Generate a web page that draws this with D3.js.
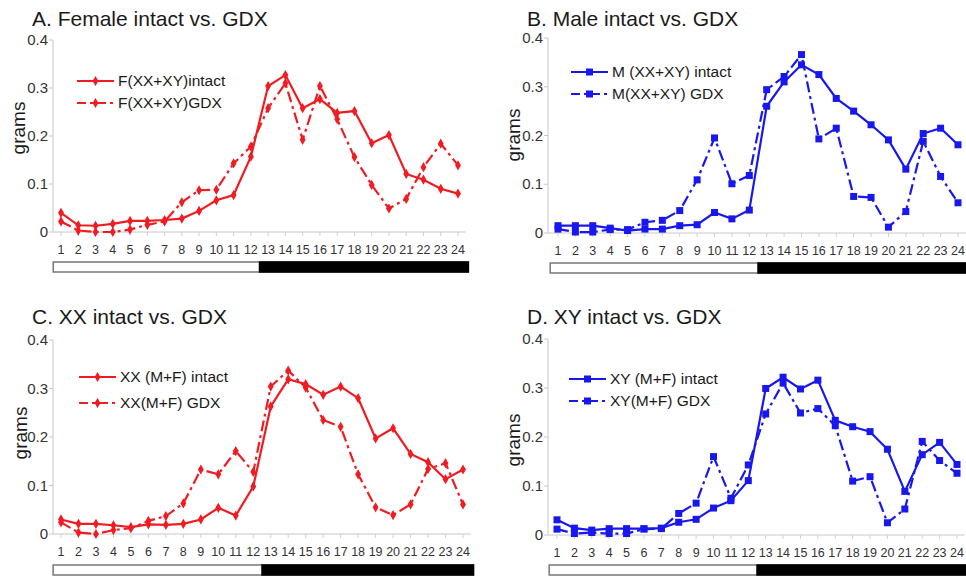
<!DOCTYPE html>
<html><head><meta charset="utf-8">
<script src="https://cdn.jsdelivr.net/npm/d3@7/dist/d3.min.js"></script>
<style>
body{margin:0;background:#fff;}
svg{display:block;font-family:"Liberation Sans",Arial,sans-serif;}
</style></head>
<body>
<svg id="chart" width="966" height="577"></svg>
<script>
const hours = [1,2,3,4,5,6,7,8,9,10,11,12,13,14,15,16,17,18,19,20,21,22,23,24];
const yTicks = [0,0.1,0.2,0.3,0.4];
const yTickLabels = ["0","0.1","0.2","0.3","0.4"];
const lightPeriod = [0.55, 12.5];
const darkPeriod = [12.5, 24.6];

const femaleIntact = [0.040,0.014,0.013,0.017,0.023,0.023,0.025,0.028,0.044,0.066,0.077,0.157,0.304,0.327,0.258,0.277,0.248,0.252,0.185,0.202,0.121,0.109,0.090,0.080];
const femaleGDX    = [0.022,0.003,0.000,0.000,0.005,0.015,0.022,0.062,0.087,0.088,0.143,0.178,0.258,0.310,0.192,0.304,0.235,0.156,0.098,0.049,0.069,0.135,0.184,0.139];
const maleIntact   = [0.015,0.015,0.015,0.010,0.005,0.008,0.008,0.015,0.017,0.042,0.029,0.047,0.260,0.310,0.345,0.325,0.276,0.250,0.222,0.191,0.131,0.204,0.215,0.181];
const maleGDX      = [0.008,0.002,0.002,0.007,0.007,0.022,0.026,0.046,0.109,0.195,0.101,0.118,0.294,0.321,0.366,0.193,0.215,0.075,0.073,0.012,0.044,0.188,0.116,0.062];
const xxIntact     = [0.030,0.021,0.021,0.018,0.014,0.020,0.019,0.021,0.030,0.054,0.038,0.098,0.263,0.319,0.309,0.287,0.304,0.280,0.197,0.218,0.165,0.148,0.113,0.133];
const xxGDX        = [0.024,0.003,0.000,0.008,0.012,0.027,0.037,0.063,0.133,0.123,0.171,0.128,0.304,0.337,0.302,0.235,0.221,0.123,0.055,0.039,0.061,0.134,0.146,0.061];
const xyIntact     = [0.031,0.014,0.010,0.013,0.013,0.013,0.014,0.026,0.032,0.055,0.070,0.111,0.299,0.322,0.298,0.316,0.234,0.221,0.211,0.175,0.089,0.164,0.189,0.144];
const xyGDX        = [0.012,0.003,0.005,0.003,0.003,0.012,0.013,0.044,0.065,0.160,0.075,0.143,0.247,0.310,0.249,0.258,0.223,0.110,0.119,0.025,0.053,0.191,0.152,0.126];

const RED = "#f01c22", BLUE = "#1818ee";

const panels = [
  {title:"A. Female intact vs. GDX", intact:femaleIntact, gdx:femaleGDX, labels:["F(XX+XY)intact","F(XX+XY)GDX"], color:RED, marker:"diamond",
   titleX:32, titleY:26, axisX:53, x1:61, x24:458, y0:232, y4:40, gramsX:18, gramsY:128, tickRight:48, legX:77, legY:81, legGap:22, barY:262},
  {title:"B. Male intact vs. GDX", intact:maleIntact, gdx:maleGDX, labels:["M (XX+XY) intact","M(XX+XY) GDX"], color:BLUE, marker:"square",
   titleX:527, titleY:26, axisX:548, x1:558, x24:958, y0:233, y4:38, gramsX:513, gramsY:135, tickRight:543, legX:571, legY:72, legGap:22, barY:263},
  {title:"C. XX intact vs. GDX", intact:xxIntact, gdx:xxGDX, labels:["XX (M+F) intact","XX(M+F) GDX"], color:RED, marker:"diamond",
   titleX:32, titleY:324, axisX:53, x1:61, x24:463, y0:534, y4:340, gramsX:20, gramsY:433, tickRight:48, legX:79, legY:377, legGap:26, barY:565},
  {title:"D. XY intact vs. GDX", intact:xyIntact, gdx:xyGDX, labels:["XY (M+F) intact","XY(M+F) GDX"], color:BLUE, marker:"square",
   titleX:527, titleY:324, axisX:548, x1:557, x24:957, y0:535, y4:339, gramsX:513, gramsY:440, tickRight:543, legX:569, legY:379, legGap:22, barY:565}
];

const svg = d3.select("#chart");
const DASH = "11,4,3,4";

function drawMarkers(g, pts, p, x, y) {
  if (p.marker === "square") {
    g.selectAll(null).data(pts).enter().append("rect")
      .attr("x", d => x(d[0]) - 3.5).attr("y", d => y(d[1]) - 3.5)
      .attr("width", 7).attr("height", 7).attr("fill", p.color);
  } else {
    g.selectAll(null).data(pts).enter().append("path")
      .attr("d", d3.symbol(d3.symbolDiamond, 30)())
      .attr("transform", d => `translate(${x(d[0])},${y(d[1])})`)
      .attr("fill", p.color);
  }
}

panels.forEach(p => {
  const g = svg.append("g");
  const x = d3.scaleLinear().domain([1,24]).range([p.x1, p.x24]);
  const y = d3.scaleLinear().domain([0,0.4]).range([p.y0, p.y4]);

  g.append("text").attr("x", p.titleX).attr("y", p.titleY)
    .attr("font-size", 21).attr("fill", "#1a1a1a").text(p.title);

  g.append("line").attr("x1", p.axisX).attr("x2", p.axisX)
    .attr("y1", y(0)).attr("y2", y(0.4)).attr("stroke", "#c8c8c8").attr("stroke-width", 1);
  g.selectAll(null).data(yTicks).enter().append("line")
    .attr("x1", p.axisX - 4).attr("x2", p.axisX).attr("y1", d => y(d)).attr("y2", d => y(d))
    .attr("stroke", "#c8c8c8");
  g.selectAll(null).data(yTicks).enter().append("text")
    .attr("x", p.tickRight).attr("y", d => y(d) + 5).attr("text-anchor", "end")
    .attr("font-size", 15).attr("fill", "#333").text((d,i) => yTickLabels[i]);

  g.append("text").attr("transform", `translate(${p.gramsX},${p.gramsY}) rotate(-90)`)
    .attr("text-anchor", "middle").attr("dy", "0.35em").attr("font-size", 19).attr("fill", "#1a1a1a").text("grams");

  g.append("line").attr("x1", p.axisX).attr("x2", x(24.45))
    .attr("y1", y(0)).attr("y2", y(0)).attr("stroke", "#c8c8c8");
  g.selectAll(null).data(hours).enter().append("line")
    .attr("x1", d => x(d)).attr("x2", d => x(d)).attr("y1", y(0)).attr("y2", y(0) + 4)
    .attr("stroke", "#d0d0d0");
  g.selectAll(null).data(hours).enter().append("text")
    .attr("x", d => x(d)).attr("y", y(0) + 22).attr("text-anchor", "middle")
    .attr("font-size", 12.5).attr("fill", "#333").text(d => d);

  g.append("rect").attr("x", x(lightPeriod[0])).attr("y", p.barY)
    .attr("width", x(darkPeriod[1]) - x(lightPeriod[0])).attr("height", 10)
    .attr("fill", "#fff").attr("stroke", "#777").attr("stroke-width", 1.5);
  g.append("rect").attr("x", x(darkPeriod[0])).attr("y", p.barY)
    .attr("width", x(darkPeriod[1]) - x(darkPeriod[0])).attr("height", 10)
    .attr("fill", "#000").attr("stroke", "#000").attr("stroke-width", 1.5);

  const line = d3.line().x(d => x(d[0])).y(d => y(d[1]));
  const ptsI = hours.map((h,i) => [h, p.intact[i]]);
  const ptsG = hours.map((h,i) => [h, p.gdx[i]]);
  g.append("path").datum(ptsG).attr("d", line).attr("fill", "none")
    .attr("stroke", p.color).attr("stroke-width", 2.2).attr("stroke-dasharray", DASH);
  g.append("path").datum(ptsI).attr("d", line).attr("fill", "none")
    .attr("stroke", p.color).attr("stroke-width", 2.2);
  drawMarkers(g, ptsG, p, x, y);
  drawMarkers(g, ptsI, p, x, y);

  const legLen = 37;
  [0,1].forEach(k => {
    const ly = p.legY + k * p.legGap;
    g.append("line").attr("x1", p.legX).attr("x2", p.legX + legLen).attr("y1", ly).attr("y2", ly)
      .attr("stroke", p.color).attr("stroke-width", 2)
      .attr("stroke-dasharray", k === 1 ? "9,4,3,4" : null);
    const mx = p.legX + legLen / 2;
    if (p.marker === "square") {
      g.append("rect").attr("x", mx - 3.5).attr("y", ly - 3.5).attr("width", 7).attr("height", 7).attr("fill", p.color);
    } else {
      g.append("path").attr("d", d3.symbol(d3.symbolDiamond, 30)()).attr("transform", `translate(${mx},${ly})`).attr("fill", p.color);
    }
    g.append("text").attr("x", p.legX + legLen + 4).attr("y", ly + 5)
      .attr("font-size", 15.5).attr("fill", "#1a1a1a").text(p.labels[k]);
  });
});
</script>
</body></html>
